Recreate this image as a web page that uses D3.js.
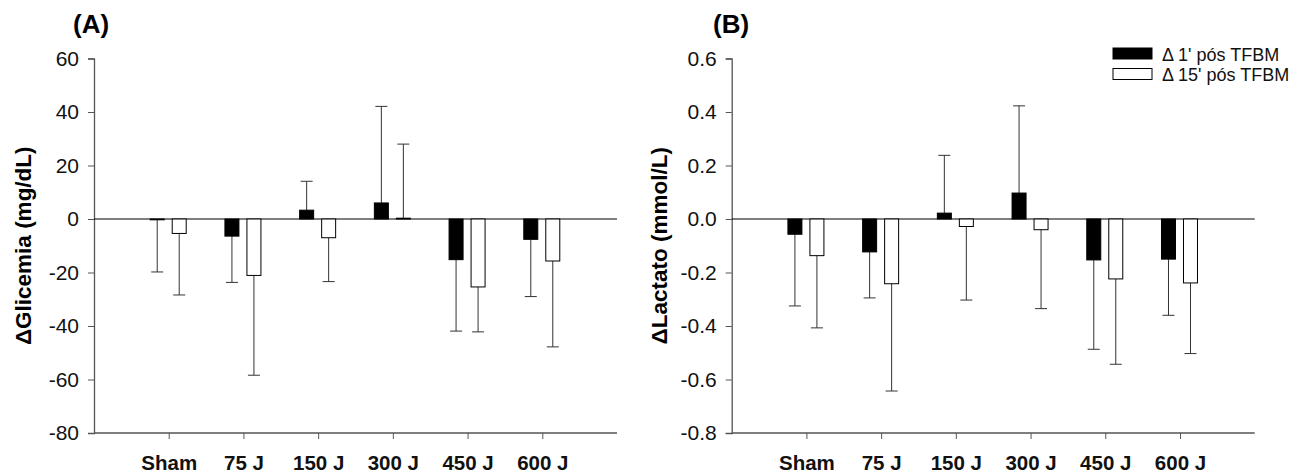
<!DOCTYPE html>
<html>
<head>
<meta charset="utf-8">
<script src="https://cdn.jsdelivr.net/npm/d3@7"></script>
<style>
  body { margin: 0; background: #fff; }
  svg { display: block; font-family: Arial, "Liberation Sans", sans-serif; }
</style>
</head>
<body>
<div id="chart"></div>
<script>
// categories shared by both panels
const groups = ["Sham", "75 J", "150 J", "300 J", "450 J", "600 J"];
const seriesNames = ["\u0394 1' pós TFBM", "\u0394 15' pós TFBM"];

// Panel A: glicemia (mean, error end)
const glic1 = [-0.3, -6.4, 3.3, 6.0, -15.2, -7.6];
const glic1Err = [-19.8, -23.7, 14.1, 42.1, -41.9, -29.0];
const glic15 = [-5.4, -21.1, -7.0, 0.3, -25.4, -15.7];
const glic15Err = [-28.4, -58.4, -23.4, 28.0, -42.2, -47.8];
const glicTicks = [60, 40, 20, 0, -20, -40, -60, -80];

// Panel B: lactato
const lac1 = [-0.057, -0.123, 0.022, 0.097, -0.153, -0.150];
const lac1Err = [-0.325, -0.295, 0.238, 0.423, -0.487, -0.360];
const lac15 = [-0.137, -0.242, -0.028, -0.040, -0.224, -0.239];
const lac15Err = [-0.407, -0.643, -0.303, -0.335, -0.543, -0.503];
const lacTicks = [0.6, 0.4, 0.2, 0.0, -0.2, -0.4, -0.6, -0.8];

const width = 1306, height = 475;
const svg = d3.select("#chart").append("svg")
  .attr("width", width)
  .attr("height", height);

svg.append("rect").attr("width", width).attr("height", height).attr("fill", "#fff");

// plain hyphen for negatives, like the original
const hyph = f => d => f(d).replace("\u2212", "-");

function drawPanel(opts) {
  const g = svg.append("g");

  const x = d3.scalePoint()
    .domain(groups)
    .range([opts.left, opts.right])
    .padding(1);

  const y = d3.scaleLinear()
    .domain([opts.ticks[opts.ticks.length - 1], opts.ticks[0]])
    .range([433, 58.5]);

  // y axis
  const yAxis = g.append("g")
    .attr("transform", `translate(${opts.left},0)`)
    .call(d3.axisLeft(y).tickValues(opts.ticks).tickFormat(hyph(opts.fmt)).tickSizeOuter(0).tickSize(6).tickPadding(9));
  yAxis.select(".domain").attr("stroke", "#555").attr("stroke-width", 1.3);
  yAxis.selectAll(".tick line").attr("stroke", "#555");
  yAxis.selectAll(".tick text").attr("fill", "#111").style("font-size", "21px");

  // x axis at bottom
  const xAxis = g.append("g")
    .attr("transform", `translate(0,${y(opts.ticks[opts.ticks.length - 1])})`)
    .call(d3.axisBottom(x).tickSizeOuter(0).tickSize(6).tickPadding(16));
  xAxis.select(".domain").attr("stroke", "#555").attr("stroke-width", 1.3)
    .attr("d", `M${opts.left},0H${opts.right}`);
  xAxis.selectAll(".tick line").attr("stroke", "#555");
  xAxis.selectAll(".tick text").attr("fill", "#111")
    .style("font-size", "20.5px").style("font-weight", "bold");

  // zero line
  g.append("line")
    .attr("x1", opts.left).attr("x2", opts.right)
    .attr("y1", y(0)).attr("y2", y(0))
    .attr("stroke", "#000").attr("stroke-width", 1.2);

  const barW = 14, off = [-11.5, 10.5];
  const series = [
    { vals: opts.s1, errs: opts.e1, fill: "#000", off: off[0] },
    { vals: opts.s2, errs: opts.e2, fill: "#fff", off: off[1] }
  ];

  series.forEach(s => {
    // error bars first (from bar end out to error end)
    g.selectAll(null)
      .data(groups)
      .enter()
      .append("line")
      .attr("x1", d => x(d) + s.off)
      .attr("x2", d => x(d) + s.off)
      .attr("y1", (d, i) => y(s.vals[i]))
      .attr("y2", (d, i) => y(s.errs[i]))
      .attr("stroke", "#333")
      .attr("stroke-width", 1);

    g.selectAll(null)
      .data(groups)
      .enter()
      .append("line")
      .attr("x1", d => x(d) + s.off - 6)
      .attr("x2", d => x(d) + s.off + 6)
      .attr("y1", (d, i) => y(s.errs[i]))
      .attr("y2", (d, i) => y(s.errs[i]))
      .attr("stroke", "#333")
      .attr("stroke-width", 1);

    g.selectAll(null)
      .data(groups)
      .enter()
      .append("rect")
      .attr("x", d => x(d) + s.off - barW / 2)
      .attr("width", barW)
      .attr("y", (d, i) => Math.min(y(0), y(s.vals[i])))
      .attr("height", (d, i) => Math.abs(y(s.vals[i]) - y(0)))
      .attr("fill", s.fill)
      .attr("stroke", "#000")
      .attr("stroke-width", 1);
  });

  // panel letter
  g.append("text")
    .attr("x", opts.letterX)
    .attr("y", 33)
    .style("font-size", "26px")
    .style("font-weight", "bold")
    .text(opts.letter);

  // y label
  g.append("text")
    .attr("transform", `translate(${opts.labelX},${(y.range()[0] + y.range()[1]) / 2}) rotate(-90)`)
    .attr("text-anchor", "middle")
    .style("font-size", "22.5px")
    .style("font-weight", "bold")
    .text(opts.label);
}

drawPanel({
  left: 94, right: 617,
  ticks: glicTicks, fmt: d3.format("d"),
  s1: glic1, e1: glic1Err, s2: glic15, e2: glic15Err,
  letter: "(A)", letterX: 73,
  label: "\u0394Glicemia (mg/dL)", labelX: 31
});

drawPanel({
  left: 731.7, right: 1254.7,
  ticks: lacTicks, fmt: d3.format(".1f"),
  s1: lac1, e1: lac1Err, s2: lac15, e2: lac15Err,
  letter: "(B)", letterX: 713,
  label: "\u0394Lactato (mmol/L)", labelX: 667
});

// legend
const legend = svg.append("g").attr("transform", "translate(1113,48)");
legend.selectAll("rect")
  .data(seriesNames)
  .enter()
  .append("rect")
  .attr("x", 0)
  .attr("y", (d, i) => i * 20.5)
  .attr("width", 39)
  .attr("height", 11)
  .attr("fill", (d, i) => i === 0 ? "#000" : "#fff")
  .attr("stroke", "#000")
  .attr("stroke-width", 1);

legend.selectAll("text")
  .data(seriesNames)
  .enter()
  .append("text")
  .attr("x", 49)
  .attr("y", (d, i) => 12.5 + i * 20.5)
  .style("font-size", "18px")
  .attr("fill", "#111")
  .text(d => d);
</script>
</body>
</html>
